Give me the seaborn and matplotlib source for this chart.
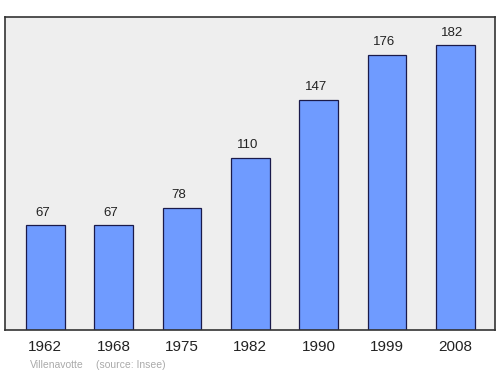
import matplotlib
matplotlib.use("Agg")
import matplotlib.pyplot as plt
import seaborn as sns
import pandas as pd

years = ["1962", "1968", "1975", "1982", "1990", "1999", "2008"]
population = [67, 67, 78, 110, 147, 176, 182]
commune = "Villenavotte"
source = "(source: Insee)"

sns.set_theme(style="white")
plt.rcParams["font.family"] = ["Liberation Sans", "DejaVu Sans"]

df = pd.DataFrame({"year": years, "pop": population})

fig = plt.figure(figsize=(5, 3.74), dpi=100)
ax = fig.add_axes([0.01, 0.1176, 0.98, 0.837])
ax.set_facecolor("#eeeeee")
sns.barplot(data=df, x="year", y="pop", ax=ax, color="#6f9bff", saturation=1,
            width=0.57, edgecolor="#1a1a4a", linewidth=0.9)
ax.set_xlim(-0.59, 6.58)
ax.set_ylim(0, 200)
ax.set_xlabel("")
ax.set_ylabel("")
ax.set_yticks([])
ax.tick_params(axis="x", length=0, labelsize=11, pad=7.5, colors="#222222")
for s in ax.spines.values():
    s.set_color("#333333")
    s.set_linewidth(1.2)
for i, v in enumerate(population):
    ax.annotate(str(v), (i, v), xytext=(-2.2, 6.8), textcoords="offset points",
                ha="center", va="baseline", fontsize=9.5, color="#222222")
fig.text(0.06, 0.025, commune, fontsize=7.5, color="#aaaaaa", ha="left", va="center")
fig.text(0.192, 0.025, source, fontsize=7.5, color="#aaaaaa", ha="left", va="center")
fig.savefig("out.png", dpi=100)
